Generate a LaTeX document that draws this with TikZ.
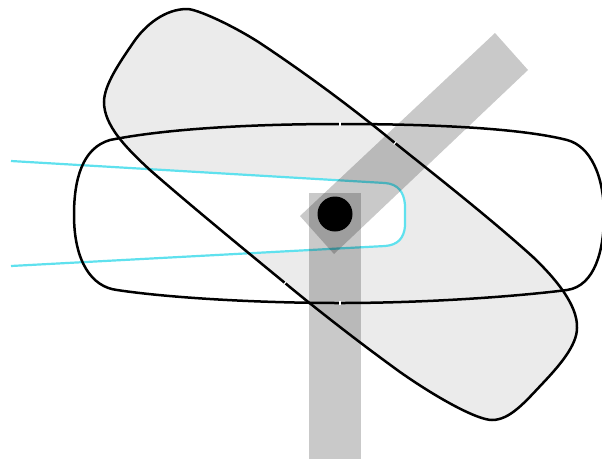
\documentclass[tikz,border=0pt]{standalone}
\definecolor{cyanline}{RGB}{95,225,238}
\begin{document}
\begin{tikzpicture}[x=1pt,y=-1pt,
  outline/.style={draw=black,line width=2.5pt},
  bar/.style={fill=black,fill opacity=.21},
  notch/.style={draw=white,line width=1.1pt}]
\useasboundingbox (0,0) rectangle (602,459);
\def\diagshape{(187,9) .. controls (197,9) and (232,25) .. (260,43)
  .. controls (305,73) and (350,106) .. (395,143)
  .. controls (430,171) and (490,218) .. (533,257)
  .. controls (555,278) and (578,305) .. (577,328)
  .. controls (577,345) and (560,365) .. (543,383)
  .. controls (525,402) and (510,420) .. (492,420)
  .. controls (478,420) and (440,400) .. (400,372)
  .. controls (360,343) and (320,312) .. (285,283)
  .. controls (240,246) and (190,205) .. (150,170)
  .. controls (125,147) and (104,125) .. (104,102)
  .. controls (104,85) and (120,62) .. (133,43)
  .. controls (145,25) and (165,9) .. (187,9) -- cycle}
\def\horizshape{(340,124) .. controls (430,124) and (520,128) .. (567,140)
  .. controls (590,146) and (604,175) .. (604,215)
  .. controls (604,250) and (595,286) .. (567,290)
  .. controls (520,296) and (430,303) .. (340,303)
  .. controls (260,303) and (170,298) .. (117,290)
  .. controls (92,287) and (74,262) .. (74,215)
  .. controls (74,180) and (82,148) .. (110,140)
  .. controls (170,128) and (260,124) .. (340,124) -- cycle}
\def\cyanshape{(11,161) -- (385,183) .. controls (398,184) and (404,192) .. (405,205)
  -- (405,226) .. controls (404,238) and (398,245) .. (385,246) -- (11,266)}
\fill[black!8] \diagshape;
\fill[white] \cyanshape -- cycle;
\draw[cyanline,line width=2.2pt] \cyanshape;
\fill[bar] (309,193) rectangle (361,459);
\fill[bar] (300,216) -- (334,254) -- (528,70) -- (495,33) -- cycle;
\draw[outline] \diagshape;
\draw[outline] \horizshape;
\fill[black] (335,214) circle (17.5);
\draw[notch] (340,122) -- (340,126);
\draw[notch] (340,301) -- (340,305);
\draw[notch] (393.7,144.6) -- (396.3,141.4);
\draw[notch] (283.7,284.6) -- (286.3,281.4);
\end{tikzpicture}
\end{document}
